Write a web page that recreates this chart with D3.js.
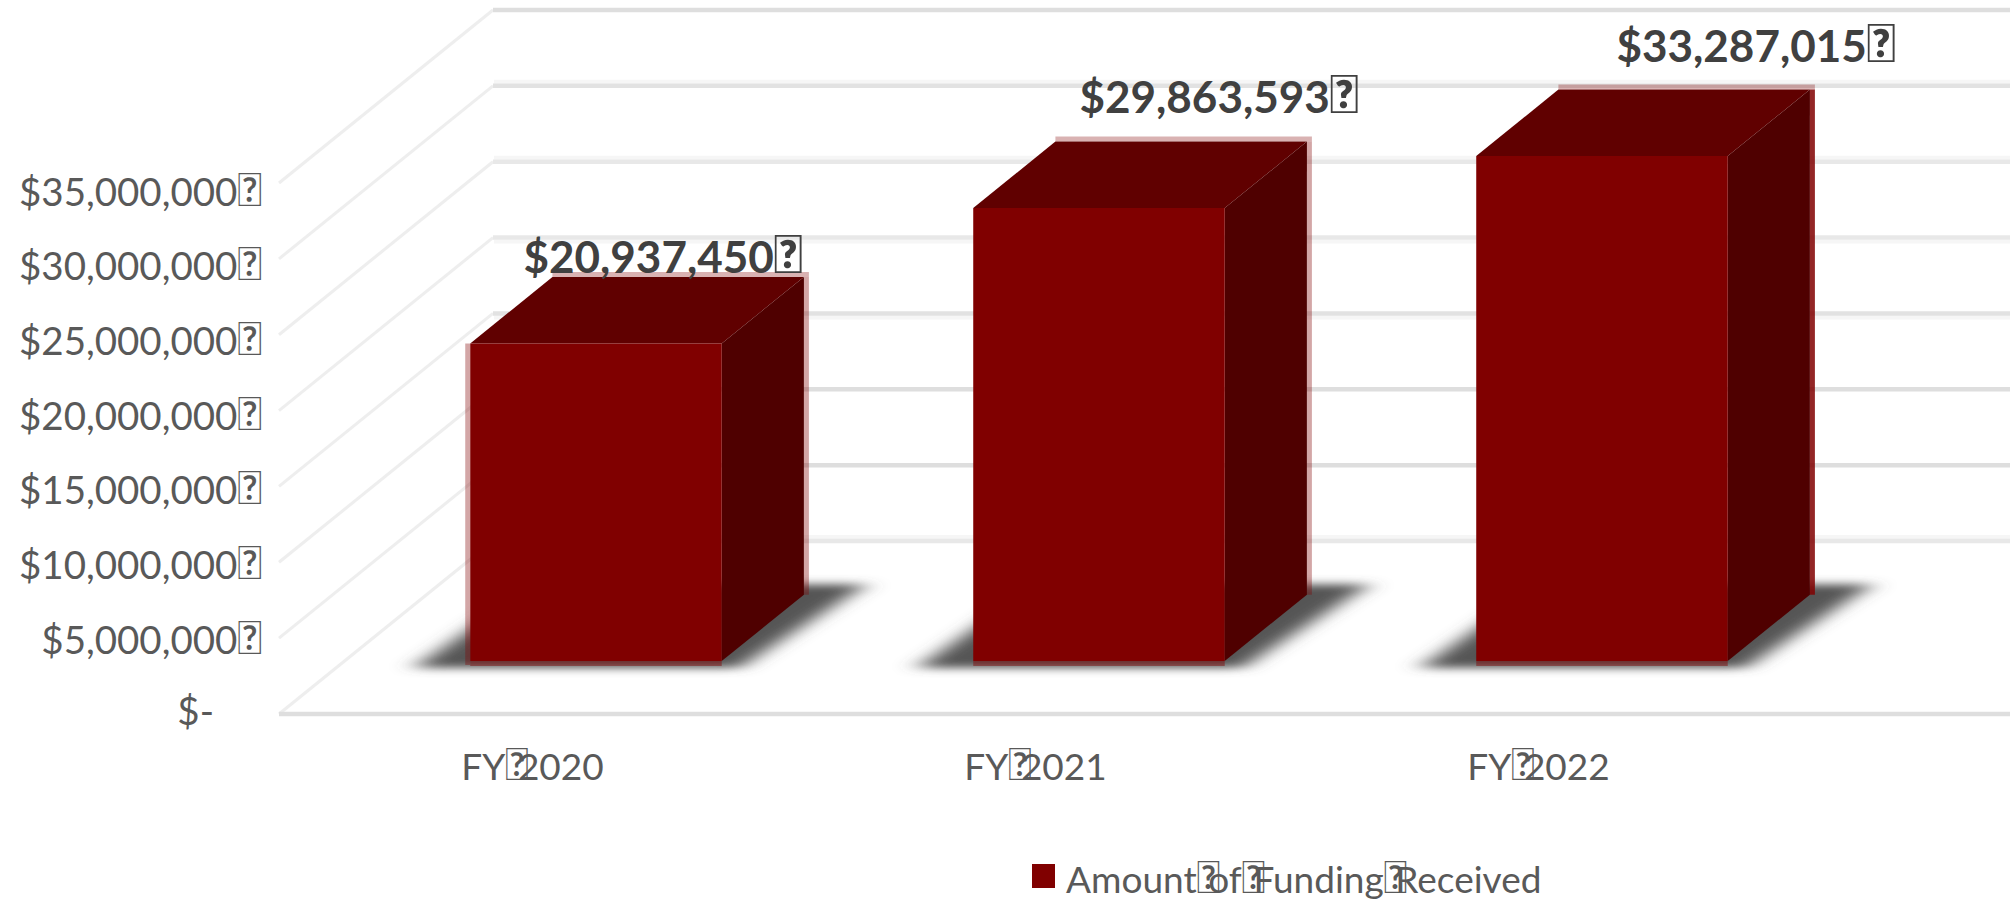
<!DOCTYPE html>
<html>
<head>
<meta charset="utf-8">
<script src="https://cdn.jsdelivr.net/npm/d3@7"></script>
<style>
  html, body { margin: 0; background: #fff; }
  svg { display: block; }
  text { font-family: Lato, "Open Sans", sans-serif; }
</style>
</head>
<body>
<div id="chart"></div>
<script>
const categories = ['FY\uF0202020', 'FY\uF0202021', 'FY\uF0202022']
const funding = [20937450, 29863593, 33287015]
const fundingLabels = ['$20,937,450\uF020', '$29,863,593\uF020', '$33,287,015\uF020']
const yTicks = [0, 5000000, 10000000, 15000000, 20000000, 25000000, 30000000, 35000000]
const yTickLabels = ['$-', '$5,000,000\uF020', '$10,000,000\uF020', '$15,000,000\uF020', '$20,000,000\uF020', '$25,000,000\uF020', '$30,000,000\uF020', '$35,000,000\uF020']
const legendLabel = 'Amount\uF020of\uF020Funding\uF020Received'

const W = 2010
const H = 902

const svg = d3.select('#chart').append('svg')
  .attr('width', W).attr('height', H)

const defs = svg.append('defs')
defs.append('filter').attr('id', 'shadow-blur')
  .attr('x', '-20%').attr('y', '-30%').attr('width', '140%').attr('height', '160%')
  .append('feGaussianBlur').attr('stdDeviation', '12 4.5')

// Front plane scales, everything further back is sheared by project()
const x = d3.scaleBand().domain(categories).range([279, 1788]).paddingInner(0.5).paddingOuter(0.25)
const y = d3.scaleLinear().domain([0, 35000000]).range([714, 183])
const tickLabelY = d3.scaleLinear().domain([0, 35000000]).range([714.7, 192])
const depthX = d3.scaleLinear().domain([0, 1]).range([0, 214])
const depthY = d3.scaleLinear().domain([0, 1]).range([0, -173])

const project = (px, value, depth) => [px + depthX(depth), y(value) + depthY(depth)]
const poly = pts => pts.map(p => p.join(',')).join(' ')

// Source text has an unmapped space char that shows as a box, box is bigger than the text
function writeText(sel, str, size, overlap) {
  sel.attr('font-size', size)
  str.split(/(\uF020)/).forEach(part => {
    if (!part) return
    const span = sel.append('tspan').text(part)
    if (part === '\uF020') span.attr('font-size', size * 1.2).attr('letter-spacing', -overlap)
  })
}

// Walls
const gridHalo = [-1, 0, 0, 1, 1, -1, -1, 0]
const gridColor = ['#e8e8e8', '#dedede', '#dedede', '#e2e2e2', '#e8e8e8', '#e8e8e8', '#e2e2e2', '#dedede']

const walls = svg.append('g')
yTicks.forEach((t, i) => {
  const front = project(x.range()[0], t, 0)
  const back = project(x.range()[0], t, 1)
  walls.append('line')
    .attr('x1', front[0]).attr('y1', front[1])
    .attr('x2', back[0]).attr('y2', back[1])
    .attr('stroke', '#eeeeee').attr('stroke-width', 3)
  if (gridHalo[i] !== 0) {
    walls.append('line')
      .attr('x1', back[0] + 1).attr('y1', back[1] + gridHalo[i] * 4)
      .attr('x2', W).attr('y2', back[1] + gridHalo[i] * 4)
      .attr('stroke', '#f6f6f6').attr('stroke-width', 4)
  }
  walls.append('line')
    .attr('x1', back[0]).attr('y1', back[1])
    .attr('x2', W).attr('y2', back[1])
    .attr('stroke', gridColor[i]).attr('stroke-width', 4.5)
})
// floor front edge
walls.append('line')
  .attr('x1', x.range()[0]).attr('y1', y(0))
  .attr('x2', W).attr('y2', y(0))
  .attr('stroke', '#dedede').attr('stroke-width', 4.5)

// Tick labels
svg.append('g').selectAll('text')
  .data(yTicks).join('text')
  .attr('x', (d, i) => i === 0 ? 214 : 262)
  .attr('y', d => tickLabelY(d) + 13.5 - (d === 0 ? 3 : 0))
  .attr('text-anchor', 'end')
  .attr('fill', '#595959')
  .each(function (d, i) { writeText(d3.select(this), yTickLabels[i], 38.5, 0) })

svg.append('g').selectAll('text')
  .data(categories).join('text')
  .attr('x', d => x(d) + x.bandwidth() / 2 + 2)
  .attr('y', 780)
  .attr('text-anchor', 'middle')
  .attr('fill', '#595959')
  .each(function (d) { writeText(d3.select(this), d, 37, 11) })

// Bars
const BAR_FRONT = 0.306
const BAR_BACK = 0.69
const bars = svg.append('g')
const labelDx = [26, 79, 113]
const labelLift = [20, 45, 44]
const rimLeft = [0.35, 0, 0]
const rimRight = [0.35, 0.35, 0.85]

funding.forEach((v, i) => {
  const x0 = x(categories[i])
  const x1 = x0 + x.bandwidth()

  // soft shadow on the floor
  bars.append('polygon')
    .attr('points', poly([
      project(x0 - 48, 0, BAR_FRONT - 0.04),
      project(x1 + 26, 0, BAR_FRONT - 0.04),
      project(x1 + 50, 0, BAR_BACK + 0.06),
      project(x0 - 30, 0, BAR_BACK + 0.06)
    ]))
    .attr('fill', '#555')
    .attr('filter', 'url(#shadow-blur)')

  const fbl = project(x0, 0, BAR_FRONT)
  const fbr = project(x1, 0, BAR_FRONT)
  const ftl = project(x0, v, BAR_FRONT)
  const ftr = project(x1, v, BAR_FRONT)
  const bbr = project(x1, 0, BAR_BACK)
  const btl = project(x0, v, BAR_BACK)
  const btr = project(x1, v, BAR_BACK)

  // pale rims on the straight outer edges only
  const rim = (a, b, op) => bars.append('line')
    .attr('x1', a[0]).attr('y1', a[1]).attr('x2', b[0]).attr('y2', b[1])
    .attr('stroke', '#800000').attr('stroke-opacity', op).attr('stroke-width', 5)
  rim([fbl[0] - 2.5, fbl[1] + 4], [ftl[0] - 2.5, ftl[1]], rimLeft[i])
  rim([btl[0], btl[1] - 2.5], [btr[0] + 5, btr[1] - 2.5], 0.3)
  rim([btr[0] + 2.5, btr[1]], [bbr[0] + 2.5, bbr[1]], rimRight[i])
  rim([fbl[0], fbl[1] + 2.5], [fbr[0], fbr[1] + 2.5], 0.45)

  bars.append('polygon').attr('points', poly([ftl, ftr, btr, btl])).attr('fill', '#600000')
  bars.append('polygon').attr('points', poly([fbr, ftr, btr, bbr])).attr('fill', '#4f0000')
  bars.append('polygon').attr('points', poly([fbl, ftl, ftr, fbr])).attr('fill', '#800000')

  const mid = project((x0 + x1) / 2, v, (BAR_FRONT + BAR_BACK) / 2)
  const label = bars.append('text')
    .attr('x', mid[0] + labelDx[i])
    .attr('y', btl[1] - labelLift[i] + 16)
    .attr('text-anchor', 'middle')
    .attr('fill', '#404040')
    .attr('font-weight', 700)
  writeText(label, fundingLabels[i], 44, 0)
})

// Legend
const legend = svg.append('g')
legend.append('rect')
  .attr('x', 1032).attr('y', 864).attr('width', 23).attr('height', 24)
  .attr('fill', '#800000')
const legendText = legend.append('text')
  .attr('x', 1066).attr('y', 893)
  .attr('fill', '#595959')
writeText(legendText, legendLabel, 37, 12)
</script>
</body>
</html>
